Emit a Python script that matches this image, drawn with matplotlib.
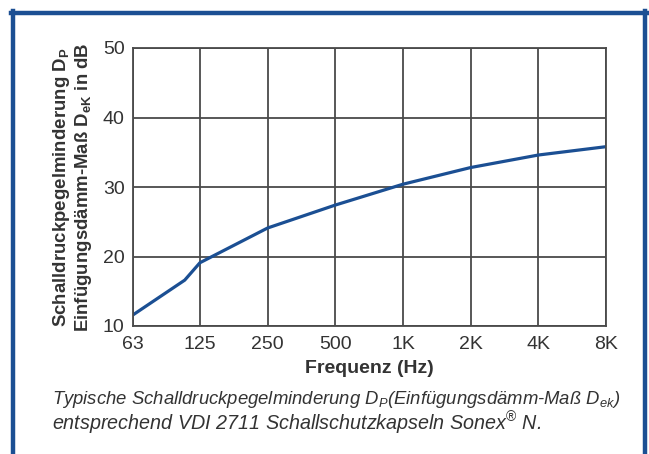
import numpy as np
import matplotlib
matplotlib.use("Agg")
import matplotlib.pyplot as plt
from matplotlib.lines import Line2D

# values
freqs = [63, 107, 125, 250, 500, 1000, 2000, 4000, 8000]
damping = [11.6, 16.6, 19.1, 24.1, 27.4, 30.4, 32.8, 34.6, 35.8]

tick_freqs = [63, 125, 250, 500, 1000, 2000, 4000, 8000]
tick_labels = ["63", "125", "250", "500", "1K", "2K", "4K", "8K"]
y_ticks = [10, 20, 30, 40, 50]

plt.rcParams['font.family'] = ['Liberation Sans', 'DejaVu Sans']
plt.rcParams['mathtext.fontset'] = 'custom'
plt.rcParams['mathtext.rm'] = 'Liberation Sans'
plt.rcParams['mathtext.it'] = 'Liberation Sans:italic'
plt.rcParams['mathtext.bf'] = 'Liberation Sans:bold'

blue = "#1b4f93"
grid_c = "#4a4a4a"
text_c = "#333333"

fig = plt.figure(figsize=(6.49, 4.54), dpi=100)
ax = fig.add_axes([133/649, 1 - 326/454, (606-133)/649, (326-48)/454])

ax.set_xscale("log", base=2)
ax.plot(freqs, damping, "-", color=blue, lw=2.3, solid_capstyle="butt")
ax.set_xlim(63, 8000)
ax.set_ylim(10, 50)
ax.set_xticks(tick_freqs)
ax.set_xticklabels(tick_labels)
ax.xaxis.set_minor_locator(matplotlib.ticker.NullLocator())
ax.set_yticks(y_ticks)
ax.grid(True, color=grid_c, lw=1.3)
for s in ax.spines.values():
    s.set_color(grid_c)
    s.set_linewidth(1.3)
ax.tick_params(length=0, labelsize=14, labelcolor=text_c)
ax.tick_params(axis="x", pad=7)
ax.tick_params(axis="y", pad=6)

ax.set_xlabel("Frequenz (Hz)", fontsize=14, fontweight="bold", color=text_c, labelpad=5)
ax.set_ylabel("Schalldruckpegelminderung D$_\\mathbf{P}$\n"
              "Einfügungsdämm-Maß D$_\\mathbf{eK}$ in dB",
              fontsize=13.4, fontweight="bold", color=text_c,
              labelpad=6, linespacing=1.1)

fig.text(52/649, 1 - 399/454,
         "Typische Schalldruckpegelminderung D$_P$(Einfügungsdämm-Maß D$_{ek}$)",
         fontsize=13.3, style="italic", color=text_c, va="center", ha="left")
fig.text(52/649, 1 - 423/454,
         "entsprechend VDI 2711 Schallschutzkapseln Sonex$^{®}$ N.",
         fontsize=14.2, style="italic", color=text_c, va="center", ha="left")

# blue frame around the chart
fw = 3.2
fig.add_artist(Line2D([13/649, 13/649], [0, 1 - 11/454], color=blue, lw=fw,
                      transform=fig.transFigure))
fig.add_artist(Line2D([645/649, 645/649], [0, 1 - 11/454], color=blue, lw=fw,
                      transform=fig.transFigure))
fig.add_artist(Line2D([11/649, 647/649], [1 - 13/454, 1 - 13/454], color=blue, lw=fw,
                      transform=fig.transFigure))

fig.savefig("out.png", dpi=100)
